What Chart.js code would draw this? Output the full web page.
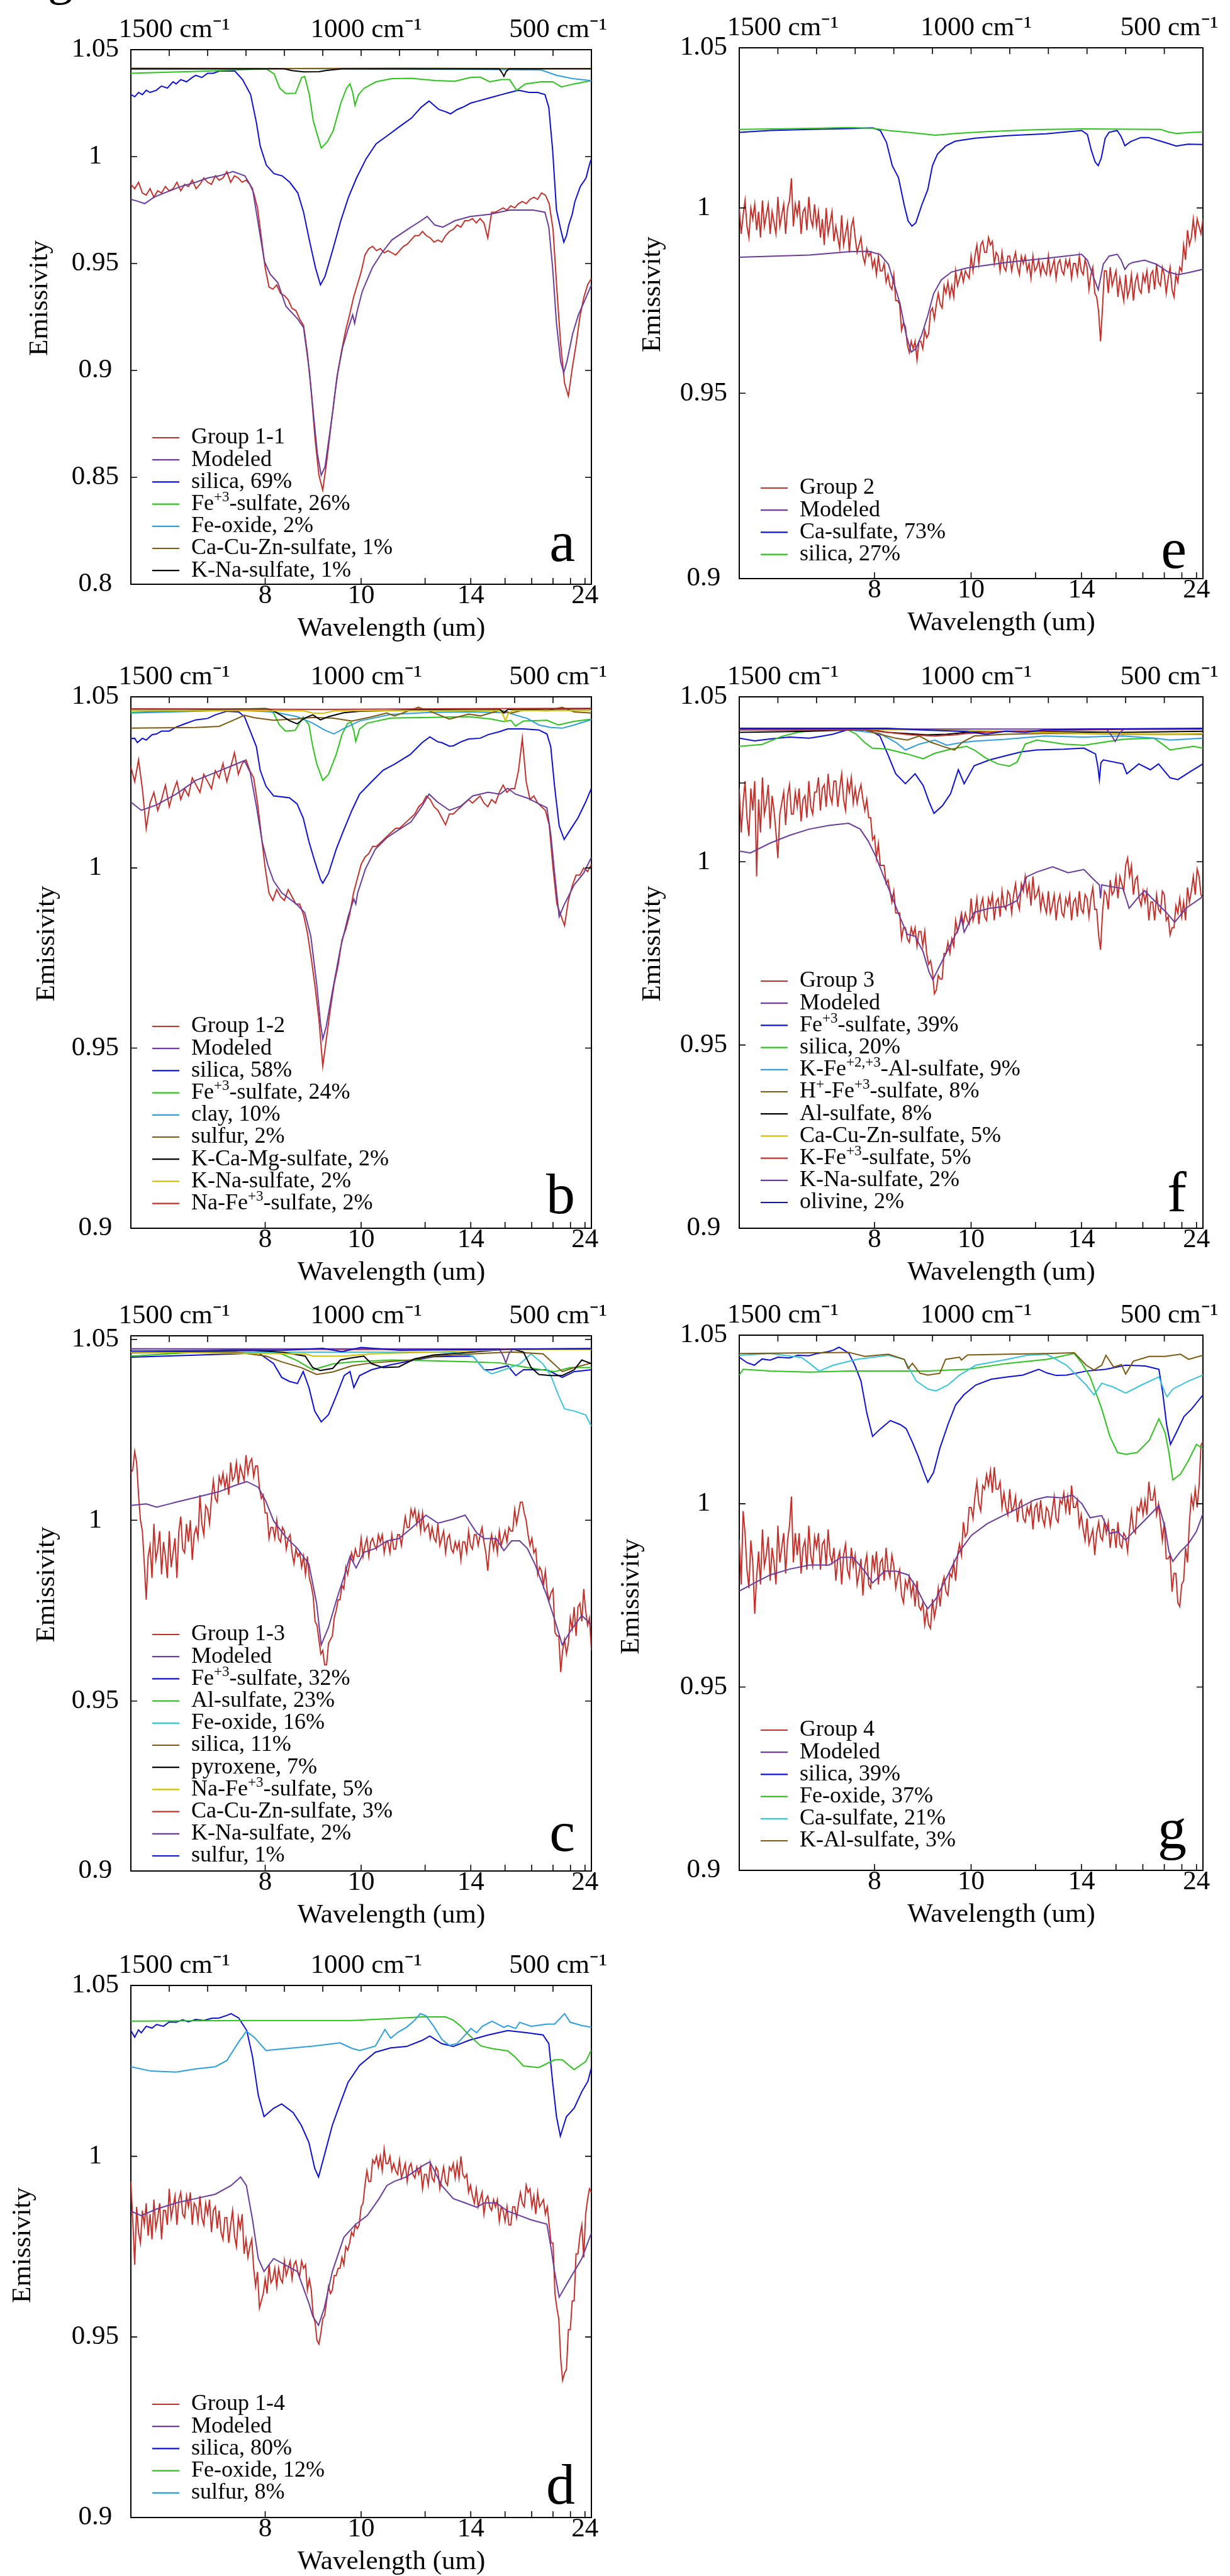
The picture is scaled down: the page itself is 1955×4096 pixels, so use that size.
<!DOCTYPE html>
<html>
<head>
<meta charset="utf-8">
<title>Emissivity spectra</title>
<script src="https://cdn.jsdelivr.net/npm/chart.js@4.4.1/dist/chart.umd.min.js"></script>
<style>
  html, body { margin: 0; padding: 0; background: #fff; }
  body { position: relative; width: 1955px; height: 4096px; overflow: hidden; }
  canvas { position: absolute; }
  .cut { position: absolute; left: 76px; top: -76px; font: 80px/80px 'Liberation Serif', serif; color: #000; }
</style>
</head>
<body>
<div class="cut">g</div>
<canvas id="pa"></canvas>
<canvas id="pe"></canvas>
<canvas id="pb"></canvas>
<canvas id="pf"></canvas>
<canvas id="pc"></canvas>
<canvas id="pg"></canvas>
<canvas id="pd"></canvas>
<script>
// ---- axes ----
const umTicks = [8, 10, 12, 14, 16, 18, 20, 22, 24];
const umLabeled = [8, 10, 14, 24];
const cmTicks = [1500, 1400, 1300, 1200, 1100, 1000, 900, 800, 700, 600, 500];
const cmLabeled = [1500, 1000, 500];
const yTicksWide = [0.8, 0.85, 0.9, 0.95, 1, 1.05];
const yTicksNarrow = [0.9, 0.95, 1, 1.05];
const yTicksF = [0.9, 0.95, 1, 1.0215, 1.05];

// wavenumber grids (cm-1) for the measured group spectra
const wnGrid = [
  1600,1590,1580,1570,1560,1550,1540,1530,1520,1510,
  1500,1490,1480,1470,1460,1450,1440,1430,1420,1410,
  1400,1390,1380,1370,1360,1350,1340,1330,1320,1310,
  1300,1290,1280,1270,1260,1250,1240,1230,1220,1210,
  1200,1190,1180,1170,1160,1150,1140,1130,1120,1110,
  1100,1090,1080,1070,1060,1050,1040,1030,1020,1010,
  1000,990,980,970,960,950,940,930,920,910,
  900,890,880,870,860,850,840,830,820,810,
  800,790,780,770,760,750,740,730,720,710,
  700,690,680,670,660,650,640,630,620,610,
  600,590,580,570,560,550,540,530,520,510,
  500,490,480,470,460,450,440,430,420,410,
  400];
const wnFine = [
  1600,1595,1590,1585,1580,1575,1570,1565,1560,1555,1550,1545,1540,1535,1530,1525,1520,1515,1510,1505,
  1500,1495,1490,1485,1480,1475,1470,1465,1460,1455,1450,1445,1440,1435,1430,1425,1420,1415,1410,1405,
  1400,1395,1390,1385,1380,1375,1370,1365,1360,1355,1350,1345,1340,1335,1330,1325,1320,1315,1310,1305,
  1300,1295,1290,1285,1280,1275,1270,1265,1260,1255,1250,1245,1240,1235,1230,1225,1220,1215,1210,1205,
  1200,1195,1190,1185,1180,1175,1170,1165,1160,1155,1150,1145,1140,1135,1130,1125,1120,1115,1110,1105,
  1100,1095,1090,1085,1080,1075,1070,1065,1060,1055,1050,1045,1040,1035,1030,1025,1020,1015,1010,1005,
  1000,995,990,985,980,975,970,965,960,955,950,945,940,935,930,925,920,915,910,905,
  900,895,890,885,880,875,870,865,860,855,850,845,840,835,830,825,820,815,810,805,
  800,795,790,785,780,775,770,765,760,755,750,745,740,735,730,725,720,715,710,705,
  700,695,690,685,680,675,670,665,660,655,650,645,640,635,630,625,620,615,610,605,
  600,595,590,585,580,575,570,565,560,555,550,545,540,535,530,525,520,515,510,505,
  500,495,490,485,480,475,470,465,460,455,450,445,440,435,430,425,420,415,410,405,
  400];

// ---- panel a ----
const aGroup = [
  0.987,0.985,0.988,0.983,0.982,0.985,0.981,0.984,0.983,0.986,
  0.984,0.985,0.988,0.984,0.987,0.986,0.989,0.985,0.987,0.990,
  0.988,0.987,0.991,0.989,0.990,0.993,0.988,0.991,0.990,0.988,
  0.989,0.987,0.983,0.976,0.962,0.948,0.939,0.938,0.940,0.936,
  0.935,0.933,0.929,0.928,0.924,0.921,0.908,0.890,0.868,0.851,
  0.844,0.857,0.872,0.887,0.900,0.910,0.919,0.926,0.934,0.940,
  0.946,0.954,0.957,0.958,0.956,0.957,0.955,0.956,0.955,0.954,
  0.956,0.958,0.959,0.961,0.963,0.963,0.965,0.963,0.962,0.960,
  0.961,0.960,0.963,0.965,0.966,0.968,0.967,0.970,0.970,0.971,
  0.969,0.971,0.969,0.962,0.974,0.974,0.975,0.976,0.975,0.977,
  0.976,0.978,0.979,0.978,0.980,0.981,0.980,0.983,0.982,0.978,
  0.966,0.938,0.912,0.894,0.888,0.901,0.912,0.925,0.934,0.940,
  0.943];
const aModel = [1600,0.980, 1580,0.979, 1564,0.978, 1540,0.981, 1513,0.983, 1470,0.986, 1431,0.988, 1400,0.990, 1370,0.991,
  1334,0.993, 1303,0.991, 1283,0.985, 1273,0.974, 1263,0.963, 1252,0.951, 1237,0.945, 1217,0.941, 1196,0.930,
  1165,0.924, 1150,0.920, 1135,0.900, 1125,0.881, 1114,0.861, 1104,0.851, 1094,0.855, 1084,0.868, 1073,0.882,
  1063,0.897, 1048,0.911, 1033,0.920, 1022,0.926, 1017,0.922, 1010,0.928, 997,0.937, 971,0.948, 946,0.955,
  920,0.961, 879,0.966, 844,0.970, 828,0.972, 808,0.968, 787,0.967, 756,0.970, 716,0.972, 665,0.973, 613,0.975,
  582,0.975, 552,0.975, 521,0.974, 511,0.967, 501,0.948, 491,0.922, 480,0.904, 472,0.899, 464,0.904, 449,0.917,
  434,0.926, 419,0.932, 400,0.940];
const aSilica = [1600,1.029, 1590,1.028, 1580,1.030, 1570,1.029, 1560,1.031, 1550,1.030, 1534,1.031, 1520,1.033, 1505,1.032,
  1490,1.035, 1482,1.034, 1470,1.036, 1455,1.035, 1440,1.037, 1431,1.038, 1415,1.037, 1400,1.039, 1385,1.039,
  1370,1.040, 1350,1.040, 1329,1.040, 1309,1.036, 1288,1.029, 1273,1.016, 1263,1.005, 1247,0.996, 1227,0.992,
  1206,0.991, 1186,0.988, 1165,0.983, 1150,0.974, 1135,0.961, 1119,0.948, 1106,0.940, 1094,0.944, 1073,0.957,
  1053,0.970, 1033,0.981, 1012,0.990, 987,0.999, 961,1.006, 930,1.010, 900,1.014, 869,1.018, 844,1.023, 823,1.026,
  810,1.024, 797,1.022, 780,1.021, 767,1.020, 750,1.022, 736,1.023, 715,1.025, 695,1.026, 675,1.027, 654,1.028,
  634,1.029, 613,1.030, 590,1.031, 562,1.030, 540,1.030, 521,1.029, 511,1.023, 501,1.003, 491,0.975, 480,0.966,
  472,0.960, 465,0.963, 459,0.968, 450,0.973, 443,0.979, 429,0.986, 414,0.990, 404,0.997, 400,0.999];
const aFe3 = [1600,1.039, 1500,1.0395, 1400,1.040, 1329,1.0405, 1247,1.041, 1227,1.0387, 1212,1.032, 1196,1.0295,
  1171,1.0296, 1155,1.037, 1147,1.0375, 1135,1.029, 1125,1.017, 1114,1.010, 1104,1.004, 1088,1.007, 1073,1.012,
  1053,1.025, 1038,1.032, 1029,1.034, 1022,1.030, 1016,1.024, 1007,1.029, 992,1.032, 961,1.035, 920,1.0365,
  869,1.0366, 808,1.0356, 756,1.0352, 716,1.037, 690,1.0372, 665,1.035, 634,1.036, 613,1.036, 595,1.031,
  572,1.034, 531,1.035, 501,1.035, 478,1.0326, 445,1.034, 400,1.0355];
const aFeOx = [1600,1.041, 1200,1.0412, 1000,1.041, 700,1.0408, 531,1.0405, 491,1.038, 449,1.0365, 400,1.0355];
const aCaCuZn = [1600,1.0413, 1200,1.0412, 900,1.0413, 600,1.0412, 400,1.0412];
const aKNa = [1600,1.041, 1200,1.041, 1180,1.0402, 1150,1.0396, 1110,1.0397, 1090,1.0403, 1050,1.041, 640,1.041,
  632,1.039, 628,1.0375, 622,1.0398, 615,1.041, 400,1.041];

// ---- panel e ----
const eGroup = [
  1.000,0.993,0.998,1.002,0.995,0.992,1.000,0.997,1.001,0.994,0.999,0.992,1.002,0.995,0.998,1.001,0.993,0.999,0.996,0.993,
  1.003,0.995,0.998,1.001,0.993,1.000,1.002,1.008,0.995,1.001,0.998,1.002,0.993,0.999,1.000,0.994,1.003,0.997,0.995,1.001,
  0.995,0.999,0.992,0.997,0.990,1.000,0.993,0.996,0.999,0.991,0.995,0.992,0.989,0.998,0.990,0.993,0.996,0.988,0.995,0.997,
  0.992,0.988,0.990,0.992,0.987,0.985,0.989,0.987,0.988,0.984,0.986,0.982,0.987,0.983,0.983,0.985,0.980,0.982,0.979,0.978,
  0.982,0.975,0.975,0.974,0.967,0.969,0.968,0.963,0.961,0.964,0.962,0.964,0.959,0.964,0.964,0.962,0.967,0.965,0.966,0.972,
  0.973,0.970,0.974,0.977,0.974,0.973,0.979,0.977,0.980,0.976,0.979,0.976,0.983,0.979,0.981,0.983,0.980,0.983,0.982,0.981,
  0.987,0.983,0.987,0.990,0.985,0.990,0.991,0.988,0.988,0.992,0.990,0.991,0.985,0.988,0.987,0.983,0.988,0.984,0.983,0.987,
  0.987,0.983,0.986,0.988,0.984,0.982,0.987,0.985,0.987,0.983,0.985,0.981,0.987,0.983,0.984,0.986,0.982,0.985,0.983,0.982,
  0.987,0.982,0.984,0.986,0.981,0.985,0.986,0.983,0.982,0.986,0.984,0.986,0.981,0.985,0.985,0.982,0.987,0.983,0.982,0.986,
  0.984,0.978,0.982,0.984,0.977,0.976,0.972,0.964,0.973,0.983,0.983,0.977,0.984,0.979,0.981,0.983,0.976,0.981,0.978,0.975,
  0.982,0.976,0.978,0.982,0.975,0.980,0.982,0.978,0.977,0.982,0.980,0.983,0.977,0.982,0.983,0.978,0.985,0.980,0.979,0.984,
  0.982,0.977,0.981,0.984,0.978,0.976,0.982,0.980,0.984,0.983,0.990,0.986,0.994,0.990,0.992,0.997,0.992,0.997,0.995,0.993,
  0.997];
const eModel = [1600,0.9867, 1418,0.9873, 1316,0.9882, 1265,0.9883, 1235,0.9874, 1214,0.9848, 1199,0.9795, 1184,0.9742,
  1168,0.9657, 1155,0.9611, 1143,0.9620, 1128,0.9657, 1112,0.971, 1097,0.9769, 1077,0.9806, 1051,0.9827,
  1010,0.9838, 908,0.9853, 806,0.9864, 714,0.9875, 699,0.9859, 684,0.9816, 671,0.9779, 658,0.9848, 643,0.9870,
  622,0.9875, 612,0.9860, 602,0.9834, 592,0.9848, 581,0.9853, 551,0.9859, 520,0.9848, 490,0.9827, 464,0.9820,
  439,0.9825, 398,0.9835];
const eCaSulf = [1600,1.0204, 1520,1.0209, 1418,1.0212, 1316,1.0214, 1255,1.0216, 1235,1.0209, 1219,1.0177, 1204,1.0114,
  1188,1.0082, 1173,1.0007, 1163,0.9965, 1153,0.9951, 1143,0.9960, 1128,1.0007, 1112,1.005, 1100,1.0114,
  1087,1.0145, 1066,1.0167, 1041,1.018, 990,1.0188, 908,1.0195, 806,1.020, 714,1.0209, 699,1.0198, 689,1.0156,
  679,1.0124, 671,1.0114, 663,1.0135, 653,1.0188, 643,1.0204, 622,1.0209, 612,1.0193, 602,1.0168, 587,1.0179,
  561,1.0190, 541,1.0190, 500,1.0177, 469,1.0167, 439,1.0172, 398,1.0171];
const eSilica = [1600,1.0212, 1400,1.0215, 1316,1.0217, 1255,1.0215, 1214,1.0209, 1153,1.0203, 1092,1.0196, 1041,1.0201,
  959,1.0206, 857,1.0210, 806,1.0212, 704,1.0213, 510,1.0212, 490,1.0205, 469,1.0201, 439,1.0203, 398,1.0205];

// ---- panel b ----
const bGroup = [
  1.028,1.024,1.030,1.022,1.011,1.018,1.021,1.016,1.019,1.023,
  1.017,1.021,1.024,1.019,1.022,1.020,1.025,1.023,1.021,1.026,
  1.024,1.022,1.027,1.025,1.029,1.024,1.028,1.032,1.026,1.029,
  1.030,1.027,1.025,1.018,1.009,1.000,0.993,0.991,0.994,0.992,
  0.991,0.994,0.992,0.990,0.990,0.987,0.982,0.975,0.967,0.958,
  0.945,0.953,0.961,0.968,0.973,0.980,0.983,0.987,0.993,0.997,
  1.001,1.003,1.004,1.006,1.006,1.007,1.008,1.009,1.010,1.011,
  1.011,1.012,1.013,1.014,1.015,1.017,1.018,1.020,1.019,1.017,
  1.016,1.014,1.012,1.015,1.015,1.016,1.017,1.018,1.019,1.018,
  1.019,1.020,1.018,1.017,1.019,1.018,1.021,1.023,1.021,1.022,
  1.022,1.027,1.036,1.024,1.019,1.020,1.018,1.017,1.016,1.012,
  1.000,0.990,0.987,0.984,0.991,0.995,0.998,0.998,1.000,0.999,
  1.001];
const bModel = [1600,1.0183, 1573,1.016, 1533,1.0175, 1482,1.0205, 1431,1.0243, 1380,1.0265, 1329,1.0287, 1304,1.0298,
  1289,1.0265, 1273,1.0172, 1258,1.0073, 1243,1.0008, 1228,0.9964, 1207,0.9931, 1167,0.9898, 1147,0.9876,
  1131,0.981, 1116,0.9679, 1106,0.957, 1100,0.9525, 1091,0.956, 1075,0.9657, 1054,0.9777, 1034,0.9865,
  1019,0.9914, 1014,0.990, 1009,0.9931, 989,0.9997, 963,1.0052, 933,1.0084, 902,1.0106, 870,1.0128, 841,1.0172,
  823,1.0205, 801,1.0183, 770,1.016, 740,1.0172, 709,1.020, 669,1.021, 638,1.0205, 618,1.0221, 598,1.0205,
  567,1.0194, 537,1.0178, 516,1.0167, 506,1.0095, 496,0.9986, 484,0.9865, 471,0.9898, 445,0.9953, 420,0.9986,
  400,1.003];
const bSilica = [1600,1.0359, 1590,1.036, 1583,1.0348, 1570,1.036, 1560,1.0355, 1545,1.037, 1533,1.0372, 1520,1.038,
  1500,1.038, 1482,1.0391, 1460,1.040, 1431,1.0411, 1400,1.0415, 1380,1.0425, 1350,1.0435, 1319,1.0433,
  1304,1.042, 1289,1.038, 1273,1.0337, 1263,1.0271, 1248,1.0227, 1228,1.020, 1187,1.0195, 1167,1.0178,
  1151,1.0139, 1136,1.0073, 1121,1.0019, 1106,0.9969, 1100,0.9958, 1085,0.9985, 1065,1.0052, 1045,1.0106,
  1024,1.016, 1004,1.0205, 974,1.0238, 943,1.0271, 913,1.0288, 872,1.0315, 841,1.0348, 821,1.0364, 800,1.035,
  790,1.0348, 770,1.0338, 760,1.0339, 740,1.035, 720,1.0358, 690,1.036, 669,1.037, 640,1.0378, 618,1.0386,
  577,1.0386, 537,1.0383, 516,1.0372, 506,1.0337, 496,1.0227, 484,1.0117, 471,1.0079, 455,1.0106, 435,1.0139,
  415,1.0183, 400,1.0221];
const bFe3 = [1600,1.0432, 1329,1.0441, 1248,1.0443, 1228,1.0430, 1213,1.0397, 1197,1.038, 1172,1.0382, 1151,1.0419,
  1136,1.0397, 1126,1.0337, 1116,1.029, 1100,1.0243, 1085,1.026, 1065,1.0315, 1050,1.037, 1035,1.0402,
  1026,1.0404, 1019,1.0380, 1014,1.0351, 1004,1.0386, 984,1.0402, 923,1.0416, 821,1.0418, 720,1.042,
  659,1.0413, 628,1.0406, 610,1.041, 598,1.0394, 577,1.0408, 516,1.041, 486,1.0397, 445,1.0407, 400,1.0413];
const bClay = [1600,1.043, 1329,1.0438, 1228,1.0433, 1167,1.042, 1126,1.0402, 1096,1.0383, 1071,1.0372, 1045,1.0387,
  1004,1.0408, 923,1.0426, 821,1.0432, 720,1.0433, 618,1.0431, 567,1.0415, 537,1.0397, 506,1.039, 476,1.0388,
  445,1.0397, 400,1.0412];
const bSulfur = [1600,1.0388, 1431,1.039, 1370,1.0393, 1329,1.0412, 1304,1.0424, 1278,1.0417, 1228,1.0410, 1167,1.0414,
  1126,1.0418, 1075,1.0416, 1024,1.0408, 974,1.0419, 933,1.043, 913,1.0422, 851,1.0446, 821,1.0435, 770,1.0413,
  720,1.0427, 689,1.0422, 638,1.0438, 608,1.043, 567,1.0441, 516,1.0436, 476,1.0446, 445,1.0433, 400,1.043];
const bKCaMg = [1600,1.0441, 1240,1.0441, 1228,1.0436, 1207,1.0423, 1187,1.0409, 1167,1.040, 1147,1.0416, 1126,1.0425,
  1106,1.0411, 1085,1.0420, 1045,1.0431, 1004,1.0435, 800,1.0440, 640,1.0441, 628,1.043, 618,1.044, 400,1.0442];
const bKNa = [1600,1.0437, 1150,1.0436, 1126,1.043, 1100,1.0429, 1070,1.0436, 640,1.0437, 630,1.0425, 624,1.0408,
  617,1.0428, 605,1.0437, 400,1.0437];
const bNaFe3 = [1600,1.0442, 1100,1.0440, 800,1.0442, 400,1.0443];

// ---- panel f ----
const fGroup = [
  1.020,1.008,1.016,1.022,1.012,1.007,1.020,1.014,1.022,0.996,1.017,1.008,1.023,1.013,1.016,1.021,1.009,1.018,1.014,1.008,
  1.001,1.013,1.016,1.019,1.010,1.018,1.021,1.013,1.013,1.019,1.015,1.020,1.011,1.017,1.018,1.012,1.022,1.015,1.013,1.019,
  1.019,1.023,1.014,1.020,1.021,1.015,1.024,1.018,1.016,1.022,1.022,1.015,1.020,1.024,1.017,1.014,1.022,1.019,1.023,1.016,
  1.020,1.016,1.019,1.021,1.017,1.014,1.017,1.012,1.012,1.006,1.007,1.001,1.005,0.999,0.999,0.999,0.994,0.995,0.992,0.989,
  0.992,0.986,0.986,0.986,0.979,0.982,0.982,0.979,0.978,0.982,0.980,0.982,0.977,0.981,0.981,0.977,0.981,0.975,0.972,0.973,
  0.970,0.964,0.965,0.969,0.968,0.968,0.975,0.975,0.978,0.975,0.979,0.977,0.984,0.981,0.983,0.986,0.983,0.986,0.984,0.983,
  0.990,0.984,0.986,0.990,0.983,0.988,0.990,0.985,0.984,0.990,0.988,0.991,0.984,0.989,0.990,0.985,0.992,0.988,0.987,0.992,
  0.991,0.986,0.991,0.994,0.989,0.987,0.994,0.992,0.996,0.991,0.994,0.988,0.996,0.990,0.991,0.993,0.987,0.991,0.988,0.986,
  0.992,0.986,0.988,0.991,0.984,0.989,0.991,0.986,0.985,0.990,0.988,0.991,0.984,0.989,0.990,0.985,0.992,0.987,0.986,0.991,
  0.990,0.985,0.990,0.993,0.987,0.987,0.980,0.976,0.986,0.992,0.991,0.987,0.995,0.991,0.992,0.996,0.990,0.996,0.994,0.992,
  0.999,1.001,0.996,0.999,0.991,0.995,0.996,0.990,0.988,0.992,0.989,0.992,0.984,0.989,0.989,0.984,0.991,0.987,0.986,0.992,
  0.991,0.984,0.985,0.980,0.982,0.982,0.988,0.986,0.990,0.985,0.989,0.984,0.993,0.989,0.992,0.996,0.991,0.998,0.996,0.991,
  0.990];
const fModel = [1600,1.0029, 1571,1.0024, 1520,1.0051, 1470,1.0072, 1419,1.0089, 1368,1.0099, 1317,1.0105, 1287,1.0089,
  1266,1.0056, 1246,1.0013, 1226,0.9959, 1205,0.9905, 1185,0.9851, 1165,0.9802, 1145,0.9797, 1124,0.9754,
  1109,0.970, 1099,0.9678, 1084,0.971, 1053,0.9775, 1033,0.9816, 1025,0.9846, 1018,0.9808, 992,0.9862,
  952,0.9873, 911,0.9878, 881,0.9894, 856,0.9959, 830,0.9972, 789,0.9986, 749,0.9970, 708,0.9979, 688,0.9957,
  668,0.9937, 665,0.990, 662,0.9937, 637,0.9932, 607,0.9927, 591,0.9873, 566,0.9905, 551,0.9921, 526,0.9894,
  495,0.9862, 473,0.9835, 444,0.9873, 400,0.9905];
const fFe3 = [1600,1.0337, 1560,1.0330, 1520,1.0335, 1470,1.0340, 1419,1.0337, 1390,1.0342, 1358,1.0348, 1307,1.0364,
  1266,1.0361, 1236,1.0343, 1216,1.0294, 1195,1.024, 1170,1.0213, 1145,1.024, 1124,1.0208, 1109,1.0164,
  1096,1.0132, 1074,1.0153, 1053,1.0186, 1033,1.0251, 1018,1.0213, 992,1.0262, 952,1.0278, 911,1.0289,
  870,1.0300, 830,1.0305, 759,1.0307, 708,1.031, 678,1.0294, 672,1.026, 668,1.0224, 664,1.027, 658,1.0278,
  607,1.0267, 597,1.024, 566,1.0267, 536,1.0251, 515,1.0267, 485,1.0229, 465,1.0224, 434,1.0245, 400,1.0267];
const fSilica = [1600,1.0315, 1541,1.032, 1490,1.0342, 1449,1.0353, 1400,1.0359, 1317,1.0359, 1297,1.0348, 1276,1.0326,
  1256,1.031, 1216,1.0307, 1165,1.0294, 1124,1.0281, 1094,1.0296, 1053,1.0307, 1012,1.0315, 992,1.0305,
  962,1.0283, 931,1.0267, 901,1.0261, 881,1.0272, 860,1.0321, 830,1.0332, 759,1.0321, 708,1.0318, 658,1.0326,
  607,1.0334, 526,1.0337, 505,1.0321, 485,1.0305, 455,1.0310, 424,1.0315, 400,1.031];
const fKFeAl = [1600,1.036, 1317,1.036, 1236,1.035, 1195,1.0326, 1170,1.0305, 1134,1.0321, 1094,1.0332, 1063,1.0318,
  1033,1.0324, 992,1.0329, 911,1.0334, 810,1.0343, 708,1.034, 607,1.0343, 526,1.0337, 485,1.0332, 400,1.0337];
const fHFe3 = [1600,1.036, 1276,1.036, 1236,1.0348, 1195,1.0337, 1165,1.0332, 1134,1.0343, 1104,1.0326, 1074,1.0315,
  1043,1.0305, 1023,1.0326, 992,1.0343, 911,1.0348, 810,1.035, 708,1.035, 607,1.0348, 505,1.0348, 400,1.0348];
const fAlSulf = [1600,1.0353, 1419,1.0356, 1266,1.0361, 1216,1.0353, 1114,1.0346, 1063,1.0348, 1012,1.0353, 911,1.0356,
  607,1.0353, 400,1.0356];
const fCaCuZn = [1600,1.0362, 1100,1.0360, 900,1.0355, 700,1.035, 500,1.0348, 400,1.035];
const fKFe3 = [1600,1.0361, 1266,1.0359, 1216,1.0353, 1155,1.0346, 1094,1.0343, 1043,1.0346, 1012,1.035, 911,1.0356,
  607,1.0361, 400,1.0362];
const fKNa = [1600,1.0362, 650,1.0362, 640,1.0350, 627,1.0328, 615,1.0352, 605,1.0362, 400,1.0362];
const fOlivine = [1600,1.0364, 1216,1.0364, 1114,1.0359, 1012,1.0355, 962,1.0348, 911,1.0356, 860,1.0353, 810,1.036,
  708,1.0362, 400,1.0364];

// ---- panel c ----
const cGroup = [
  1.013,1.014,1.019,1.016,1.007,1.000,0.997,0.988,0.978,0.990,0.993,0.984,0.999,0.989,0.992,0.997,0.985,0.994,0.990,0.984,
  0.997,0.987,0.991,0.995,0.984,0.997,1.001,0.992,0.991,0.999,0.994,1.000,0.989,0.996,0.998,0.995,1.007,0.999,0.996,1.004,
  1.003,0.999,1.006,1.011,1.006,1.005,1.012,1.010,1.013,1.009,1.012,1.007,1.016,1.011,1.012,1.016,1.010,1.015,1.013,1.011,
  1.018,1.013,1.016,1.017,1.012,1.015,1.015,1.009,1.006,1.007,1.002,1.002,0.995,0.998,0.998,0.995,1.000,0.995,0.994,0.998,
  0.997,0.992,0.995,0.996,0.991,0.988,0.992,0.990,0.991,0.987,0.990,0.985,0.990,0.984,0.982,0.979,0.972,0.971,0.967,0.963,
  0.964,0.960,0.960,0.966,0.967,0.968,0.973,0.975,0.978,0.978,0.982,0.981,0.987,0.985,0.988,0.991,0.989,0.992,0.990,0.990,
  0.995,0.990,0.993,0.995,0.990,0.994,0.995,0.993,0.992,0.996,0.994,0.996,0.991,0.994,0.994,0.991,0.996,0.992,0.992,0.996,
  0.996,0.993,0.997,1.001,0.998,0.998,1.003,1.001,1.003,0.999,1.002,0.997,1.002,0.997,0.998,0.999,0.995,0.998,0.995,0.994,
  0.999,0.993,0.995,0.997,0.991,0.995,0.996,0.992,0.991,0.994,0.992,0.994,0.989,0.994,0.994,0.991,0.997,0.993,0.992,0.996,
  0.996,0.993,0.996,0.998,0.994,0.991,0.986,0.993,0.996,0.992,0.995,0.991,0.997,0.993,0.995,0.997,0.994,0.998,0.997,0.997,
  1.003,0.999,1.002,1.005,1.005,1.002,1.000,0.996,0.993,0.995,0.991,0.992,0.985,0.987,0.986,0.982,0.986,0.980,0.978,0.980,
  0.981,0.969,0.968,0.968,0.958,0.964,0.967,0.963,0.966,0.973,0.970,0.976,0.968,0.976,0.977,0.972,0.981,0.975,0.971,0.973,
  0.964];
const cModel = [1600,1.0041, 1560,1.0045, 1533,1.0036, 1500,1.0045, 1482,1.005, 1431,1.0063, 1370,1.0079, 1329,1.0096,
  1298,1.0107, 1268,1.0091, 1248,1.0052, 1228,0.9998, 1197,0.9954, 1166,0.9922, 1136,0.9878, 1116,0.977,
  1104,0.9655, 1085,0.9704, 1064,0.9780, 1044,0.9846, 1029,0.9900, 1013,0.9868, 993,0.9911, 963,0.9922,
  932,0.9943, 902,0.9949, 871,0.9976, 831,1.0014, 800,0.9992, 760,1.0003, 729,1.0014, 699,0.9965, 679,0.9949,
  648,0.9949, 628,0.9916, 608,0.9943, 587,0.9943, 567,0.9922, 547,0.9878, 516,0.9791, 496,0.9726, 476,0.9655,
  455,0.9693, 425,0.9737, 400,0.971];
const cFe3 = [1600,1.0451, 1329,1.046, 1268,1.0463, 1228,1.0433, 1207,1.0395, 1187,1.0384, 1166,1.0378, 1151,1.0411,
  1136,1.0367, 1121,1.0302, 1104,1.0272, 1085,1.0292, 1064,1.0346, 1044,1.040, 1029,1.0411, 1019,1.0367,
  1004,1.040, 973,1.0416, 922,1.043, 871,1.0441, 811,1.0452, 709,1.0454, 679,1.0416, 659,1.0416, 618,1.0427,
  597,1.040, 577,1.0416, 516,1.0416, 476,1.0395, 445,1.0411, 400,1.0416];
const cAlSulf = [1600,1.0454, 1278,1.0474, 1207,1.046, 1166,1.0441, 1126,1.0416, 1074,1.0432, 1024,1.0438, 922,1.0443,
  811,1.0441, 709,1.0438, 638,1.0435, 567,1.0422, 496,1.0411, 455,1.0422, 400,1.0422];
const cFeOx = [1600,1.0465, 811,1.0465, 760,1.0465, 709,1.0454, 679,1.0416, 659,1.0405, 628,1.0416, 587,1.0432,
  557,1.046, 526,1.0432, 506,1.040, 486,1.0346, 470,1.0308, 445,1.0302, 415,1.0291, 400,1.026];
const cSilica = [1600,1.0463, 1329,1.0465, 1248,1.0454, 1207,1.0438, 1156,1.0422, 1116,1.0403, 1074,1.041, 1024,1.0427,
  973,1.0435, 871,1.0443, 811,1.0454, 709,1.046, 608,1.0465, 526,1.046, 476,1.0411, 445,1.0422, 400,1.0435];
const cPyrox = [1600,1.0465, 1288,1.047, 1207,1.0465, 1146,1.0454, 1126,1.0422, 1106,1.0414, 1074,1.042, 1054,1.0443,
  1024,1.0449, 993,1.0454, 973,1.0433, 943,1.0422, 902,1.0424, 861,1.0446, 811,1.0457, 709,1.0465, 608,1.0474,
  577,1.0465, 557,1.0422, 537,1.0403, 506,1.040, 476,1.040, 445,1.0416, 425,1.0443, 400,1.0433];
const cNaFe3 = [1600,1.0465, 1146,1.046, 1126,1.0454, 1044,1.0454, 973,1.046, 811,1.0465, 608,1.0472, 400,1.0472];
const cCaCuZn = [1600,1.0474, 1000,1.0472, 400,1.0474];
const cKNa = [1600,1.0474, 640,1.0474, 630,1.0455, 623,1.0435, 615,1.046, 605,1.0474, 400,1.0474];
const cSulfur = [1600,1.0468, 1200,1.047, 1100,1.0475, 1050,1.0466, 1000,1.0478, 900,1.0470, 400,1.0475];

// ---- panel g ----
const gGroup = [
  0.990,0.978,0.998,0.992,0.982,0.977,0.990,0.984,0.970,0.980,0.987,0.978,0.993,0.983,0.986,0.991,0.979,0.988,0.984,0.978,
  0.994,0.984,0.988,0.992,0.981,0.990,0.994,1.002,0.984,0.992,0.986,0.992,0.981,0.988,0.990,0.982,0.994,0.986,0.983,0.991,
  0.988,0.992,0.982,0.989,0.990,0.983,0.993,0.986,0.984,0.988,0.979,0.985,0.987,0.978,0.986,0.989,0.982,0.980,0.988,0.983,
  0.986,0.978,0.981,0.985,0.975,0.983,0.986,0.978,0.977,0.986,0.982,0.987,0.978,0.984,0.985,0.979,0.988,0.982,0.980,0.986,
  0.983,0.977,0.980,0.982,0.975,0.973,0.979,0.977,0.980,0.975,0.978,0.972,0.979,0.972,0.971,0.973,0.967,0.971,0.967,0.966,
  0.974,0.969,0.972,0.977,0.972,0.978,0.980,0.976,0.975,0.981,0.980,0.984,0.979,0.986,0.989,0.986,0.995,0.991,0.992,0.999,
  0.999,0.996,1.002,1.006,1.000,0.998,1.005,1.004,1.008,1.005,1.009,1.003,1.010,1.004,1.004,1.006,0.999,1.003,0.999,0.997,
  1.004,0.998,0.999,1.002,0.995,1.000,1.001,0.996,0.995,0.999,0.997,1.000,0.993,0.999,1.000,0.995,1.001,0.996,0.994,0.999,
  0.998,0.994,0.998,1.002,0.996,0.995,1.001,1.000,1.003,0.998,1.002,0.997,1.005,0.999,0.999,1.001,0.994,0.997,0.993,0.990,
  0.996,0.989,0.991,0.993,0.986,0.992,0.995,0.991,0.990,0.995,0.992,0.995,0.988,0.993,0.993,0.988,0.995,0.989,0.988,0.992,
  0.991,0.987,0.993,0.998,0.993,0.992,0.999,0.998,1.001,0.997,1.001,0.997,1.006,1.001,1.001,1.004,0.997,1.000,0.995,0.990,
  0.995,0.985,0.985,0.986,0.976,0.981,0.981,0.973,0.972,0.978,0.979,0.988,0.984,0.995,1.002,0.999,1.004,0.999,1.005,1.016,
  1.017];
const gModel = [1600,0.9762, 1561,0.9784, 1520,0.9806, 1469,0.9822, 1418,0.9833, 1367,0.9833, 1336,0.9854, 1306,0.9854,
  1275,0.9816, 1255,0.9784, 1224,0.9816, 1193,0.9816, 1163,0.9806, 1142,0.9773, 1122,0.973, 1112,0.9714,
  1091,0.9741, 1060,0.9806, 1030,0.987, 999,0.9914, 958,0.9946, 917,0.9968, 876,0.9989, 835,1.0011, 804,1.0019,
  764,1.0016, 738,1.0024, 713,1.0, 692,0.9962, 662,0.9968, 641,0.9919, 621,0.9924, 600,0.9901, 580,0.9924,
  549,0.9957, 514,0.9995, 498,0.9935, 488,0.987, 478,0.9843, 458,0.987, 437,0.9892, 417,0.9924, 400,0.9973];
const gSilica = [1600,1.040, 1580,1.0385, 1561,1.0378, 1541,1.0395, 1520,1.0392, 1500,1.040, 1470,1.0398, 1449,1.0405,
  1420,1.0404, 1398,1.041, 1370,1.0415, 1357,1.0419, 1342,1.0427, 1330,1.042, 1316,1.041, 1301,1.0378,
  1285,1.0335, 1270,1.0248, 1255,1.0184, 1234,1.0205, 1209,1.0227, 1183,1.0216, 1168,1.0205, 1152,1.0168,
  1137,1.013, 1122,1.0086, 1112,1.0059, 1097,1.0086, 1081,1.0151, 1060,1.0216, 1040,1.027, 1019,1.0297,
  988,1.0324, 948,1.034, 907,1.0346, 866,1.0351, 825,1.0367, 804,1.0357, 780,1.035, 753,1.0351, 702,1.0362,
  651,1.0367, 600,1.0378, 549,1.0376, 514,1.0367, 504,1.0302, 494,1.0216, 484,1.0162, 469,1.0194, 449,1.0238,
  429,1.0259, 400,1.0297];
const gFeOx = [1600,1.0351, 1590,1.0367, 1520,1.0362, 1418,1.0359, 1316,1.0362, 1214,1.0362, 1112,1.0362, 1009,1.0367,
  907,1.0383, 804,1.0394, 733,1.041, 713,1.0383, 692,1.0346, 662,1.0259, 641,1.0184, 621,1.014, 600,1.0135,
  570,1.014, 539,1.0173, 514,1.0232, 498,1.0194, 488,1.014, 478,1.0065, 458,1.0081, 437,1.0119, 417,1.0162,
  400,1.0151];
const gCaSulf = [1600,1.0405, 1520,1.041, 1439,1.0399, 1418,1.0383, 1393,1.0362, 1357,1.0378, 1296,1.0394, 1214,1.0405,
  1173,1.0394, 1142,1.0335, 1112,1.0313, 1091,1.0308, 1060,1.0324, 1030,1.0351, 988,1.0378, 907,1.0394,
  856,1.0405, 804,1.0408, 753,1.0378, 702,1.0324, 682,1.0297, 662,1.0329, 631,1.0318, 600,1.0302, 559,1.0324,
  514,1.0346, 498,1.0302, 493,1.0292, 478,1.0313, 437,1.0335, 400,1.0351];
const gKAl = [1600,1.041, 1316,1.0413, 1275,1.0402, 1214,1.0408, 1173,1.0394, 1163,1.0369, 1152,1.0383, 1132,1.0356,
  1112,1.0351, 1081,1.0356, 1066,1.0394, 1030,1.0400, 1025,1.0392, 1009,1.0406, 907,1.0408, 804,1.041,
  733,1.0412, 702,1.0378, 682,1.0365, 662,1.0378, 651,1.0405, 631,1.0373, 611,1.038, 600,1.0354, 580,1.0389,
  539,1.0402, 498,1.0402, 458,1.0408, 437,1.0394, 400,1.0405];

// ---- panel d ----
const dGroup = [
  0.993,0.982,0.970,0.986,0.979,0.976,0.985,0.981,0.987,0.978,0.984,0.977,0.988,0.980,0.983,0.987,0.977,0.985,0.985,0.981,
  0.991,0.983,0.986,0.989,0.981,0.988,0.990,0.984,0.983,0.989,0.986,0.990,0.981,0.987,0.986,0.982,0.989,0.983,0.981,0.987,
  0.984,0.988,0.979,0.985,0.986,0.980,0.985,0.979,0.977,0.983,0.983,0.976,0.981,0.985,0.978,0.975,0.983,0.980,0.984,0.973,
  0.977,0.972,0.975,0.977,0.969,0.964,0.968,0.958,0.960,0.962,0.966,0.962,0.970,0.965,0.966,0.969,0.964,0.969,0.966,0.965,
  0.971,0.967,0.969,0.971,0.966,0.970,0.971,0.968,0.967,0.971,0.969,0.970,0.963,0.966,0.963,0.956,0.954,0.949,0.948,0.951,
  0.955,0.956,0.960,0.964,0.962,0.963,0.967,0.967,0.969,0.969,0.972,0.970,0.975,0.974,0.976,0.979,0.978,0.981,0.980,0.981,
  0.986,0.987,0.992,0.996,0.993,0.993,0.999,0.998,1.000,0.997,1.000,0.996,1.002,0.998,0.998,1.000,0.996,0.998,0.996,0.995,
  0.999,0.994,0.996,0.998,0.993,0.997,0.998,0.995,0.994,0.997,0.995,0.997,0.991,0.995,0.995,0.992,0.998,0.994,0.993,0.997,
  0.996,0.991,0.994,0.997,0.993,0.992,0.997,0.996,0.998,0.994,0.998,0.994,1.000,0.995,0.994,0.995,0.990,0.992,0.989,0.987,
  0.991,0.986,0.988,0.990,0.984,0.988,0.989,0.986,0.985,0.988,0.986,0.988,0.982,0.986,0.985,0.982,0.986,0.981,0.981,0.986,
  0.986,0.983,0.987,0.990,0.987,0.986,0.992,0.990,0.991,0.986,0.989,0.984,0.990,0.986,0.987,0.988,0.984,0.986,0.981,0.976,
  0.976,0.962,0.958,0.955,0.944,0.938,0.940,0.941,0.952,0.952,0.960,0.960,0.973,0.973,0.978,0.981,0.972,0.984,0.988,0.991,
  0.990];
const dModel = [1600,0.9848, 1573,0.9836, 1533,0.9854, 1482,0.9871, 1431,0.9883, 1380,0.9895, 1339,0.9919, 1314,0.9943,
  1299,0.9919, 1283,0.9824, 1268,0.9717, 1253,0.9681, 1228,0.9717, 1197,0.9699, 1166,0.9681, 1136,0.9593,
  1126,0.9557, 1111,0.9532, 1096,0.9580, 1075,0.9681, 1045,0.9776, 1014,0.9812, 984,0.9836, 953,0.9883,
  933,0.9919, 913,0.9931, 882,0.9943, 841,0.9973, 821,0.9985, 790,0.9919, 760,0.9883, 729,0.9871, 699,0.9859,
  679,0.9871, 648,0.9871, 618,0.9848, 587,0.9836, 557,0.9824, 516,0.9812, 506,0.9752, 496,0.9681, 484,0.961,
  465,0.9645, 445,0.9681, 425,0.9717, 400,0.9788];
const dSilica = [1600,1.0348, 1590,1.033, 1580,1.035, 1573,1.0342, 1560,1.036, 1545,1.0355, 1533,1.0365, 1515,1.036,
  1500,1.0372, 1482,1.0371, 1465,1.0378, 1450,1.0372, 1431,1.0379, 1410,1.0376, 1390,1.0382, 1370,1.0383,
  1350,1.039, 1339,1.0395, 1319,1.0383, 1298,1.0348, 1283,1.0276, 1268,1.0169, 1253,1.011, 1228,1.0133,
  1207,1.0145, 1177,1.0121, 1156,1.0086, 1136,1.0038, 1121,0.9967, 1111,0.9943, 1096,1.0002, 1075,1.0086,
  1055,1.0145, 1034,1.0205, 1004,1.0252, 963,1.0288, 923,1.030, 882,1.0304, 841,1.0321, 821,1.0333, 790,1.0312,
  760,1.0304, 719,1.0321, 669,1.0336, 618,1.0348, 567,1.0342, 526,1.0336, 511,1.0312, 501,1.0205, 491,1.011,
  481,1.0056, 465,1.011, 445,1.0133, 425,1.0179, 409,1.0208, 400,1.0246];
const dFeOx = [1600,1.0374, 1300,1.0376, 1024,1.0376, 923,1.0381, 841,1.0386, 780,1.0386, 760,1.0377, 740,1.0360,
  719,1.0336, 689,1.0306, 658,1.0298, 618,1.0292, 598,1.0274, 577,1.025, 537,1.0246, 496,1.0267, 476,1.0267,
  445,1.024, 415,1.0262, 400,1.0294];
const dSulfur = [1600,1.0248, 1548,1.0236, 1482,1.0233, 1431,1.0242, 1380,1.0248, 1350,1.0265, 1319,1.0317, 1299,1.0346,
  1278,1.0329, 1248,1.0293, 1228,1.0295, 1126,1.0305, 1055,1.0314, 1024,1.0299, 1004,1.0293, 963,1.0305,
  938,1.0351, 923,1.0327, 902,1.0345, 882,1.0357, 862,1.0375, 846,1.0395, 831,1.0389, 811,1.0360, 790,1.0324,
  770,1.0307, 750,1.0312, 729,1.0336, 714,1.0354, 699,1.0342, 684,1.0360, 659,1.0374, 628,1.0357, 618,1.0362,
  597,1.0354, 587,1.0371, 557,1.0360, 516,1.0366, 496,1.0366, 470,1.0395, 455,1.0371, 425,1.0362, 400,1.0357];

// ---- styling ----
const RED = '#c4302a', PURPLE = '#6a3c9e', BLUE = '#0c10d6', GREEN = '#2cc41c', LBLUE = '#2c9fde',
      CYAN = '#38c6d8', BROWN = '#7c5a10', BLACK = '#000000', YELLOW = '#d0c000';
const FONT = "'Liberation Serif', 'Times New Roman', serif";
Chart.defaults.font.family = FONT;
Chart.defaults.color = '#000';

const onGrid = vals => vals.map((v, i) => ({ x: wnGrid[i], y: v }));
const onFine = vals => vals.map((v, i) => ({ x: wnFine[i], y: v }));
const fromPairs = arr => {
  const out = [];
  for (let i = 0; i < arr.length; i += 2) out.push({ x: arr[i], y: arr[i + 1] });
  return out;
};

// draws text with ^{...} superscripts
function drawRich(ctx, text, x, y, size) {
  const parts = text.split(/\^\{([^}]*)\}/);
  let cx = x;
  parts.forEach((p, i) => {
    if (!p) return;
    const sup = i % 2 === 1;
    ctx.font = (sup ? size * 0.64 : size) + 'px ' + FONT;
    ctx.fillText(p, cx, sup ? y - size * 0.3 : y);
    cx += ctx.measureText(p).width;
  });
}

const inwardTicks = {
  id: 'inwardTicks',
  afterDraw(chart) {
    const { ctx, chartArea: ca, scales } = chart;
    const len = 10;
    ctx.save();
    ctx.strokeStyle = '#000';
    ctx.lineWidth = 1.6;
    ctx.beginPath();
    scales.x.ticks.forEach(t => {
      const px = scales.x.getPixelForValue(t.value);
      ctx.moveTo(px, ca.bottom); ctx.lineTo(px, ca.bottom - len);
    });
    scales.x2.ticks.forEach(t => {
      const px = scales.x2.getPixelForValue(t.value);
      ctx.moveTo(px, ca.top); ctx.lineTo(px, ca.top + len);
    });
    scales.y.ticks.forEach(t => {
      const py = scales.y.getPixelForValue(t.value);
      ctx.moveTo(ca.left, py); ctx.lineTo(ca.left + len, py);
      ctx.moveTo(ca.right, py); ctx.lineTo(ca.right - len, py);
    });
    ctx.stroke();
    ctx.restore();
  }
};

const panelDecor = {
  id: 'panelDecor',
  afterDraw(chart, args, o) {
    const { ctx, chartArea: ca } = chart;
    ctx.save();
    ctx.fillStyle = '#000';
    // legend
    chart.data.datasets.forEach((ds, i) => {
      const y = ca.top + o.legendTop + i * 35.2;
      ctx.strokeStyle = ds.borderColor;
      ctx.lineWidth = 2.2;
      ctx.beginPath();
      ctx.moveTo(ca.left + 34, y); ctx.lineTo(ca.left + 77, y);
      ctx.stroke();
      ctx.textAlign = 'left';
      ctx.textBaseline = 'middle';
      drawRich(ctx, ds.label, ca.left + 96, y, 36);
    });
    // axis titles
    ctx.font = '43px ' + FONT;
    ctx.textAlign = 'center';
    ctx.textBaseline = 'alphabetic';
    ctx.fillText('Wavelength (um)', (ca.left + ca.right) / 2 + 48, ca.bottom + 82);
    ctx.save();
    ctx.translate(ca.left + o.titleX, (ca.top + ca.bottom) / 2 + o.titleY);
    ctx.rotate(-Math.PI / 2);
    ctx.textBaseline = 'middle';
    ctx.fillText('Emissivity', 0, 0);
    ctx.restore();
    // panel letter
    ctx.font = '92px ' + FONT;
    ctx.textAlign = 'right';
    ctx.textBaseline = 'alphabetic';
    ctx.fillText(o.letter, ca.right - 26, ca.bottom - o.letterLift);
    ctx.restore();
  }
};

const panels = [
  { canvas: 'pa', frame: [208, 79, 940, 929], yRange: [0.8, 1.05], yTicks: yTicksWide,
    letter: 'a', letterLift: 37, titleX: -144, titleY: -30, legendTop: 617,
    series: [
      { label: 'Group 1-1', data: onGrid(aGroup), color: RED },
      { label: 'Modeled', data: fromPairs(aModel), color: PURPLE },
      { label: 'silica, 69%', data: fromPairs(aSilica), color: BLUE },
      { label: 'Fe^{+3}-sulfate, 26%', data: fromPairs(aFe3), color: GREEN },
      { label: 'Fe-oxide, 2%', data: fromPairs(aFeOx), color: LBLUE },
      { label: 'Ca-Cu-Zn-sulfate, 1%', data: fromPairs(aCaCuZn), color: BROWN },
      { label: 'K-Na-sulfate, 1%', data: fromPairs(aKNa), color: BLACK }
    ] },
  { canvas: 'pe', frame: [1175, 76, 1912, 920], yRange: [0.9, 1.0432], yTicks: yTicksNarrow,
    letter: 'e', letterLift: 17, titleX: -137, titleY: -30, legendTop: 700,
    series: [
      { label: 'Group 2', data: onFine(eGroup), color: RED },
      { label: 'Modeled', data: fromPairs(eModel), color: PURPLE },
      { label: 'Ca-sulfate, 73%', data: fromPairs(eCaSulf), color: BLUE },
      { label: 'silica, 27%', data: fromPairs(eSilica), color: GREEN }
    ] },
  { canvas: 'pb', frame: [208, 1108, 940, 1953], yRange: [0.9, 1.0475], yTicks: yTicksNarrow,
    letter: 'b', letterLift: 24, titleX: -133, titleY: -30, legendTop: 524,
    series: [
      { label: 'Group 1-2', data: onGrid(bGroup), color: RED },
      { label: 'Modeled', data: fromPairs(bModel), color: PURPLE },
      { label: 'silica, 58%', data: fromPairs(bSilica), color: BLUE },
      { label: 'Fe^{+3}-sulfate, 24%', data: fromPairs(bFe3), color: GREEN },
      { label: 'clay, 10%', data: fromPairs(bClay), color: LBLUE },
      { label: 'sulfur, 2%', data: fromPairs(bSulfur), color: BROWN },
      { label: 'K-Ca-Mg-sulfate, 2%', data: fromPairs(bKCaMg), color: BLACK },
      { label: 'K-Na-sulfate, 2%', data: fromPairs(bKNa), color: YELLOW },
      { label: 'Na-Fe^{+3}-sulfate, 2%', data: fromPairs(bNaFe3), color: RED }
    ] },
  { canvas: 'pf', frame: [1175, 1108, 1912, 1953], yRange: [0.9, 1.045], yTicks: yTicksF, yUnlabeled: [1.0215],
    letter: 'f', letterLift: 27, titleX: -137, titleY: -30, legendTop: 452,
    series: [
      { label: 'Group 3', data: onFine(fGroup), color: RED },
      { label: 'Modeled', data: fromPairs(fModel), color: PURPLE },
      { label: 'Fe^{+3}-sulfate, 39%', data: fromPairs(fFe3), color: BLUE },
      { label: 'silica, 20%', data: fromPairs(fSilica), color: GREEN },
      { label: 'K-Fe^{+2,+3}-Al-sulfate, 9%', data: fromPairs(fKFeAl), color: LBLUE },
      { label: 'H^{+}-Fe^{+3}-sulfate, 8%', data: fromPairs(fHFe3), color: BROWN },
      { label: 'Al-sulfate, 8%', data: fromPairs(fAlSulf), color: BLACK },
      { label: 'Ca-Cu-Zn-sulfate, 5%', data: fromPairs(fCaCuZn), color: YELLOW },
      { label: 'K-Fe^{+3}-sulfate, 5%', data: fromPairs(fKFe3), color: RED },
      { label: 'K-Na-sulfate, 2%', data: fromPairs(fKNa), color: PURPLE },
      { label: 'olivine, 2%', data: fromPairs(fOlivine), color: BLUE }
    ] },
  { canvas: 'pc', frame: [208, 2124, 940, 2975], yRange: [0.903, 1.051], yTicks: yTicksNarrow,
    letter: 'c', letterLift: 32, titleX: -133, titleY: -30, legendTop: 475,
    series: [
      { label: 'Group 1-3', data: onFine(cGroup), color: RED },
      { label: 'Modeled', data: fromPairs(cModel), color: PURPLE },
      { label: 'Fe^{+3}-sulfate, 32%', data: fromPairs(cFe3), color: BLUE },
      { label: 'Al-sulfate, 23%', data: fromPairs(cAlSulf), color: GREEN },
      { label: 'Fe-oxide, 16%', data: fromPairs(cFeOx), color: CYAN },
      { label: 'silica, 11%', data: fromPairs(cSilica), color: BROWN },
      { label: 'pyroxene, 7%', data: fromPairs(cPyrox), color: BLACK },
      { label: 'Na-Fe^{+3}-sulfate, 5%', data: fromPairs(cNaFe3), color: YELLOW },
      { label: 'Ca-Cu-Zn-sulfate, 3%', data: fromPairs(cCaCuZn), color: RED },
      { label: 'K-Na-sulfate, 2%', data: fromPairs(cKNa), color: PURPLE },
      { label: 'sulfur, 1%', data: fromPairs(cSulfur), color: BLUE }
    ] },
  { canvas: 'pg', frame: [1175, 2123, 1912, 2974], yRange: [0.9, 1.046], yTicks: yTicksNarrow,
    letter: 'g', letterLift: 35, titleX: -171, titleY: -10, legendTop: 628,
    series: [
      { label: 'Group 4', data: onFine(gGroup), color: RED },
      { label: 'Modeled', data: fromPairs(gModel), color: PURPLE },
      { label: 'silica, 39%', data: fromPairs(gSilica), color: BLUE },
      { label: 'Fe-oxide, 37%', data: fromPairs(gFeOx), color: GREEN },
      { label: 'Ca-sulfate, 21%', data: fromPairs(gCaSulf), color: CYAN },
      { label: 'K-Al-sulfate, 3%', data: fromPairs(gKAl), color: BROWN }
    ] },
  { canvas: 'pd', frame: [208, 3157, 940, 4003], yRange: [0.9, 1.0473], yTicks: yTicksNarrow,
    letter: 'd', letterLift: 22, titleX: -171, titleY: -10, legendTop: 666,
    series: [
      { label: 'Group 1-4', data: onFine(dGroup), color: RED },
      { label: 'Modeled', data: fromPairs(dModel), color: PURPLE },
      { label: 'silica, 80%', data: fromPairs(dSilica), color: BLUE },
      { label: 'Fe-oxide, 12%', data: fromPairs(dFeOx), color: GREEN },
      { label: 'sulfur, 8%', data: fromPairs(dSulfur), color: LBLUE }
    ] }
];

function makePanel(p) {
  const [L, T, R, B] = p.frame;
  const ML = 210, MT = 80, MR = 70, MB = 110;
  const cv = document.getElementById(p.canvas);
  cv.width = R - L + ML + MR;
  cv.height = B - T + MT + MB;
  cv.style.left = (L - ML) + 'px';
  cv.style.top = (T - MT) + 'px';
  const [yMin, yMax] = p.yRange;
  const unlabeled = p.yUnlabeled || [];
  const clampY = v => Math.min(Math.max(v, yMin), yMax);
  const frameBorder = { display: true, color: '#000', width: 2 };
  const noGrid = { display: false, drawTicks: false };
  const tickFont = { family: FONT, size: 43, lineHeight: 1 };

  new Chart(cv, {
    type: 'line',
    data: {
      datasets: p.series.map((s, i) => ({
        label: s.label, data: s.data, borderColor: s.color, backgroundColor: s.color,
        borderWidth: 2, pointRadius: 0, fill: false, tension: 0,
        order: p.series.length - i
      }))
    },
    options: {
      responsive: false, animation: false, devicePixelRatio: 1, events: [],
      layout: { padding: 0, autoPadding: false },
      plugins: {
        legend: { display: false }, tooltip: { enabled: false }, title: { display: false },
        panelDecor: { letter: p.letter, letterLift: p.letterLift, titleX: p.titleX, titleY: p.titleY, legendTop: p.legendTop }
      },
      scales: {
        x: {
          type: 'linear', position: 'bottom', min: 400, max: 1600, reverse: true,
          grid: noGrid, border: frameBorder,
          afterBuildTicks: s => { s.ticks = umTicks.map(u => ({ value: 1e4 / u })); },
          afterFit: s => { s.height = MB; },
          ticks: {
            autoSkip: false, maxRotation: 0, minRotation: 0, padding: -3, color: '#000', font: tickFont,
            callback: v => { const u = Math.round(1e4 / v); return umLabeled.includes(u) ? String(u) : ''; }
          }
        },
        x2: {
          type: 'linear', position: 'top', min: 400, max: 1600, reverse: true,
          grid: noGrid, border: frameBorder,
          afterBuildTicks: s => { s.ticks = cmTicks.map(c => ({ value: c })); },
          afterFit: s => { s.height = MT; },
          ticks: {
            autoSkip: false, maxRotation: 0, minRotation: 0, padding: 9.5, labelOffset: 8, color: '#000', font: tickFont,
            callback: v => cmLabeled.includes(v) ? v + ' cm\u207B\u00B9' : ''
          }
        },
        y: {
          type: 'linear', position: 'left', min: yMin, max: yMax,
          grid: noGrid, border: frameBorder,
          afterBuildTicks: s => { s.ticks = p.yTicks.map(v => ({ value: clampY(v) })); },
          afterFit: s => { s.width = ML; },
          ticks: {
            autoSkip: false, crossAlign: 'center', padding: 19, color: '#000', font: tickFont,
            callback: (v, i) => unlabeled.includes(p.yTicks[i]) ? '' : String(p.yTicks[i])
          }
        },
        y2: {
          type: 'linear', position: 'right', min: yMin, max: yMax, display: true,
          grid: noGrid, border: frameBorder,
          afterFit: s => { s.width = MR; },
          ticks: { display: false }
        }
      }
    },
    plugins: [inwardTicks, panelDecor]
  });
}

panels.forEach(makePanel);
</script>
</body>
</html>
